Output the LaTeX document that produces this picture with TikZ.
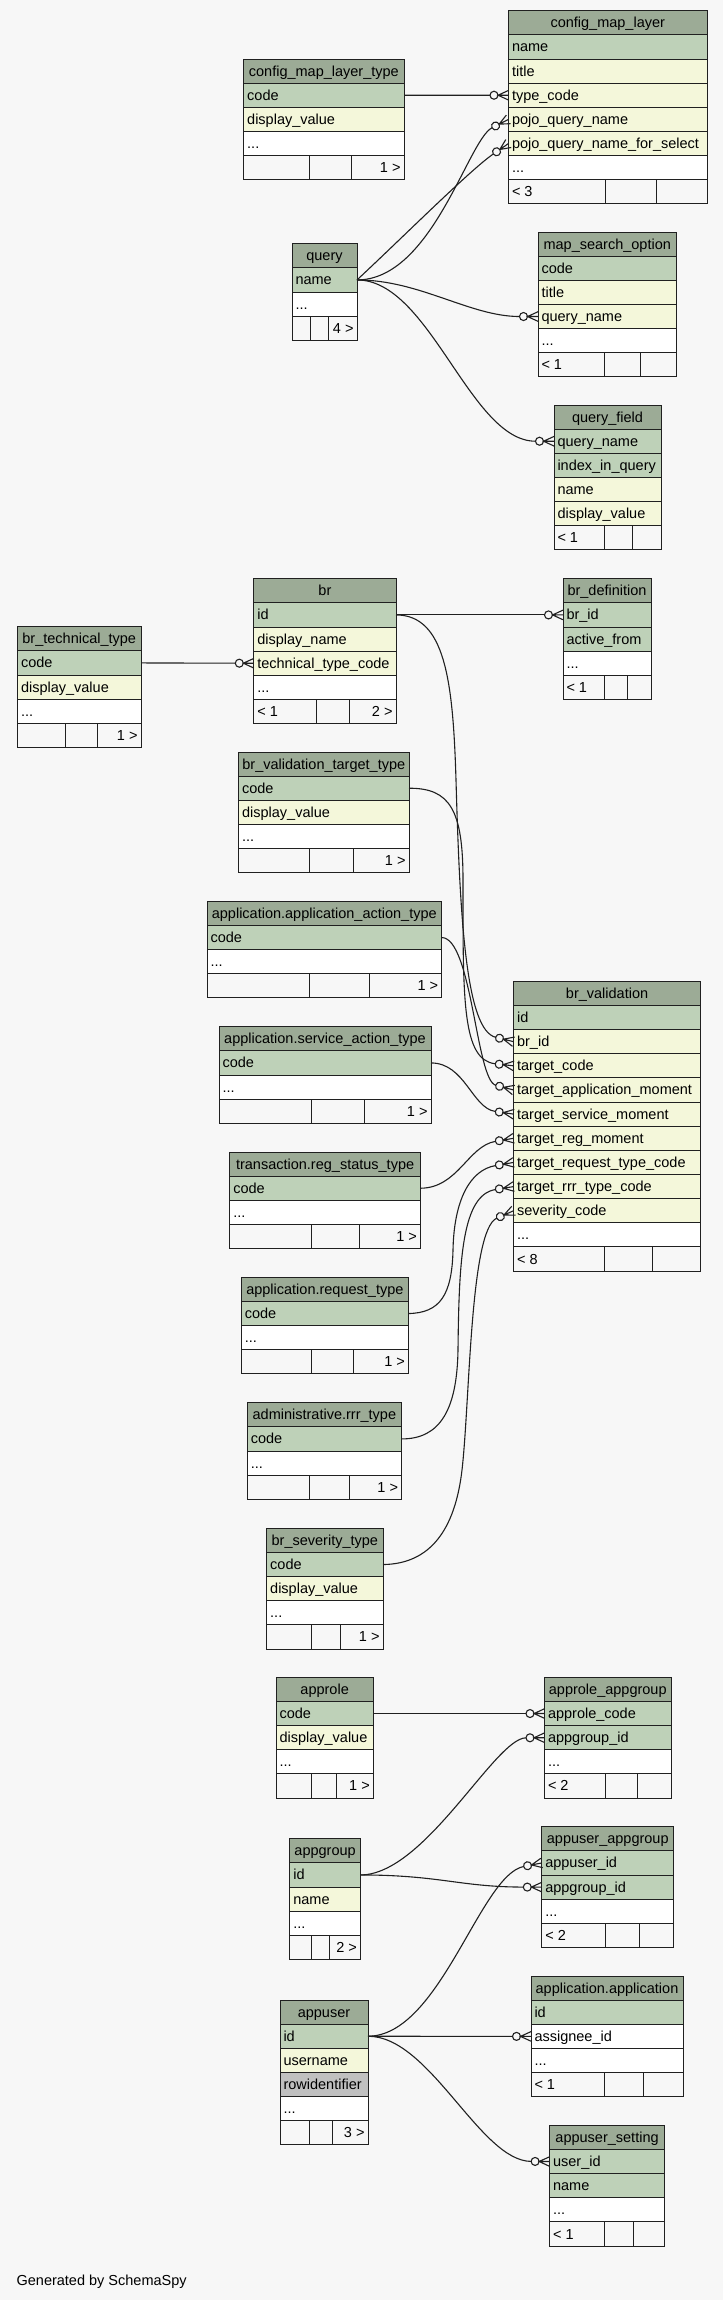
\documentclass[tikz,border=0pt]{standalone}
\usepackage{fontspec}
\setmainfont{Liberation Sans}
\usetikzlibrary{arrows.meta}
\definecolor{bgc}{HTML}{F7F7F7}
\definecolor{hdrc}{HTML}{9CAB96}
\definecolor{pkc}{HTML}{BED1B8}
\definecolor{colc}{HTML}{F4F7DA}
\definecolor{gryc}{HTML}{C0C0C0}
\definecolor{linec}{HTML}{202020}
\pgfdeclarearrow{
  name = crowodot,
  setup code = {
    \pgfarrowssettipend{0pt}
    \pgfarrowssetlineend{-18.5pt}
    \pgfarrowssetbackend{-18.5pt}
    \pgfarrowshullpoint{0pt}{5pt}
    \pgfarrowshullpoint{0pt}{-5pt}
    \pgfarrowshullpoint{-18.5pt}{4pt}
    \pgfarrowshullpoint{-18.5pt}{-4pt}
  },
  drawing code = {
    \pgfpathmoveto{\pgfqpoint{0pt}{4.8pt}}
    \pgfpathlineto{\pgfqpoint{-10.5pt}{0pt}}
    \pgfpathlineto{\pgfqpoint{0pt}{-4.8pt}}
    \pgfpathmoveto{\pgfqpoint{-10.5pt}{0pt}}
    \pgfpathlineto{\pgfqpoint{0pt}{0pt}}
    \pgfusepathqstroke
    \pgfpathcircle{\pgfqpoint{-14.5pt}{0pt}}{4pt}
    \pgfusepathqstroke
  }
}
\newcommand{\rh}{24.15}
\newcommand{\dd}{...}
\newcommand{\dbtab}[6]{%
  \node[cell, rhdr, minimum width=#4pt, anchor=north west] (#1-0) at (#2,#3) {};
  \node[txt, anchor=base] at ([yshift=-5pt]#1-0.center) {#5};
  \foreach \rkind/\rtext [count=\ri] in {#6}{%
    \node[cell, \rkind, minimum width=#4pt, anchor=north west] (#1-\ri) at (#2,#3+\ri*\rh) {};
    \node[txt, anchor=base west] at ([xshift=3.5pt,yshift=-5pt]#1-\ri.west) {\rtext};
  }%
}
\newcommand{\dbfoot}[4]{%
  \draw[cellline] ([xshift=#2pt]#1.north west) -- ([xshift=#2pt]#1.south west);
  \draw[cellline] ([xshift=#3pt]#1.north west) -- ([xshift=#3pt]#1.south west);
  \node[txt, anchor=base east] at ([xshift=-3.5pt,yshift=-5pt]#1.east) {#4};
}
\begin{document}
\begin{tikzpicture}[x=1pt,y=-1pt,
  cell/.style={rectangle, draw=linec, line width=1pt, minimum height=24.15pt, inner sep=0pt, outer sep=0pt},
  cellline/.style={draw=linec, line width=1pt},
  rhdr/.style={fill=hdrc},
  rpk/.style={fill=pkc},
  rcol/.style={fill=colc},
  rex/.style={fill=white},
  rgry/.style={fill=gryc},
  rft/.style={fill=bgc},
  txt/.style={inner sep=0pt, outer sep=0pt, font=\fontsize{14.5}{17}\selectfont, text=black},
  rel/.style={draw=linec, line width=1.1pt, -{crowodot}}
]
\fill[bgc] (0,0) rectangle (723,2300);
\useasboundingbox (0,0) rectangle (723,2300);

\dbtab{cmlt}{243.7}{59}{160.3}{config\_map\_layer\_type}{rpk/code, rcol/display\_value, rex/\dd, rft/}
\dbfoot{cmlt-4}{65.3}{107.3}{1 >}

\dbtab{cml}{508.5}{10.7}{198.5}{config\_map\_layer}{rpk/name, rcol/title, rcol/type\_code, rcol/pojo\_query\_name, rcol/pojo\_query\_name\_for\_select, rex/\dd, rft/< 3}
\dbfoot{cml-7}{96.5}{147.5}{}

\dbtab{query}{292}{243.7}{65}{query}{rpk/name, rex/\dd, rft/}
\dbfoot{query-3}{18.6}{36}{4 >}

\dbtab{mso}{538}{232}{138.5}{map\_search\_option}{rpk/code, rcol/title, rcol/query\_name, rex/\dd, rft/< 1}
\dbfoot{mso-5}{66}{102.5}{}

\dbtab{qf}{554}{405}{107}{query\_field}{rpk/query\_name, rpk/index\_in\_query, rcol/name, rcol/display\_value, rft/< 1}
\dbfoot{qf-5}{50.5}{78}{}

\dbtab{br}{253.8}{578.7}{142.2}{br}{rpk/id, rcol/display\_name, rcol/technical\_type\_code, rex/\dd, rft/< 1}
\dbfoot{br-5}{62.2}{95.2}{2 >}

\dbtab{btt}{17.5}{626.7}{123.5}{br\_technical\_type}{rpk/code, rcol/display\_value, rex/\dd, rft/}
\dbfoot{btt-4}{47.5}{79.9}{1 >}

\dbtab{brdef}{563}{578.7}{88}{br\_definition}{rpk/br\_id, rpk/active\_from, rex/\dd, rft/< 1}
\dbfoot{brdef-4}{41}{64.6}{}

\dbtab{bvtt}{238.6}{752}{170.4}{br\_validation\_target\_type}{rpk/code, rcol/display\_value, rex/\dd, rft/}
\dbfoot{bvtt-4}{70.4}{114.9}{1 >}

\dbtab{aat}{207}{901.3}{234.6}{application.application\_action\_type}{rpk/code, rex/\dd, rft/}
\dbfoot{aat-3}{102}{162}{1 >}

\dbtab{bv}{513.6}{981.3}{186.9}{br\_validation}{rpk/id, rcol/br\_id, rcol/target\_code, rcol/target\_application\_moment, rcol/target\_service\_moment, rcol/target\_reg\_moment, rcol/target\_request\_type\_code, rcol/target\_rrr\_type\_code, rcol/severity\_code, rex/\dd, rft/< 8}
\dbfoot{bv-11}{90.9}{138.9}{}

\dbtab{sat}{219}{1026.7}{212}{application.service\_action\_type}{rpk/code, rex/\dd, rft/}
\dbfoot{sat-3}{92}{145}{1 >}

\dbtab{rst}{229.8}{1152}{190.6}{transaction.reg\_status\_type}{rpk/code, rex/\dd, rft/}
\dbfoot{rst-3}{81.2}{129.2}{1 >}

\dbtab{rqt}{241.3}{1277.3}{167.1}{application.request\_type}{rpk/code, rex/\dd, rft/}
\dbfoot{rqt-3}{69.7}{112.2}{1 >}

\dbtab{rrr}{247.3}{1402.7}{154.2}{administrative.rrr\_type}{rpk/code, rex/\dd, rft/}
\dbfoot{rrr-3}{61.7}{101.7}{1 >}

\dbtab{bst}{266.7}{1528.3}{116.3}{br\_severity\_type}{rpk/code, rcol/display\_value, rex/\dd, rft/}
\dbfoot{bst-4}{44.3}{73.3}{1 >}

\dbtab{approle}{276}{1677.3}{97.3}{approle}{rpk/code, rcol/display\_value, rex/\dd, rft/}
\dbfoot{approle-4}{35}{60.4}{1 >}

\dbtab{aag}{544.5}{1677.3}{126.5}{approle\_appgroup}{rpk/approle\_code, rpk/appgroup\_id, rex/\dd, rft/< 2}
\dbfoot{aag-4}{61}{93.2}{}

\dbtab{appgroup}{289.8}{1838.7}{70.6}{appgroup}{rpk/id, rcol/name, rex/\dd, rft/}
\dbfoot{appgroup-4}{21.2}{39.7}{2 >}

\dbtab{aug}{541.8}{1826.7}{131.9}{appuser\_appgroup}{rpk/appuser\_id, rpk/appgroup\_id, rex/\dd, rft/< 2}
\dbfoot{aug-4}{63.7}{97.8}{}

\dbtab{app}{531}{1976}{152}{application.application}{rpk/id, rex/assignee\_id, rex/\dd, rft/< 1}
\dbfoot{app-4}{73}{112}{}

\dbtab{appuser}{280}{2000}{88}{appuser}{rpk/id, rcol/username, rgry/rowidentifier, rex/\dd, rft/}
\dbfoot{appuser-5}{29}{52}{3 >}

\dbtab{aus}{549.6}{2125.3}{114.9}{appuser\_setting}{rpk/user\_id, rpk/name, rex/\dd, rft/< 1}
\dbfoot{aus-4}{54.4}{84}{}

% relationships
\draw[rel] (cmlt-1.east) -- (cml-3.west);
\draw[rel] (query-1.east) .. controls (432,280) and (468,140) .. (cml-4.west);
\draw[rel] (query-1.east) .. controls (400,240) and (470,170) .. (cml-5.west);
\draw[rel] (query-1.east) .. controls (420,280) and (470,316.5) .. (mso-3.west);
\draw[rel] (query-1.east) .. controls (430,280) and (470,441.2) .. (qf-1.west);

\draw[rel] (btt-1.east) -- (br-3.west);
\draw[rel] (br-1.east) -- (brdef-1.west);
\draw[rel] (br-1.east) .. controls (445,615) and (453,680) .. (456,780) .. controls (460,920) and (466,1030) .. (bv-2.west);
\draw[rel] (bvtt-1.east) .. controls (450,788) and (463,810) .. (463,880) .. controls (463,1000) and (462,1060) .. (bv-3.west);
\draw[rel] (aat-1.east) .. controls (472,937.5) and (476,1080) .. (bv-4.west);
\draw[rel] (sat-1.east) .. controls (465,1063) and (472,1108) .. (bv-5.west);
\draw[rel] (rst-1.east) .. controls (458,1188) and (468,1146) .. (bv-6.west);
\draw[rel] (rqt-1.east) .. controls (440,1313) and (452,1295) .. (453,1250) .. controls (454,1200) and (470,1170) .. (bv-7.west);
\draw[rel] (rrr-1.east) .. controls (440,1439) and (457,1410) .. (458,1350) .. controls (459,1260) and (462,1195) .. (bv-8.west);
\draw[rel] (bst-1.east) .. controls (430,1564) and (455,1530) .. (462,1470) .. controls (470,1400) and (470,1230) .. (bv-9.west);

\draw[rel] (approle-1.east) -- (aag-1.west);
\draw[rel] (appgroup-1.east) .. controls (425,1875) and (495,1738) .. (aag-2.west);
\draw[rel] (appgroup-1.east) .. controls (440,1875) and (460,1887) .. (aug-2.west);
\draw[rel] (appuser-1.east) .. controls (440,2036) and (480,1875) .. (aug-1.west);
\draw[rel] (appuser-1.east) -- (app-2.west);
\draw[rel] (appuser-1.east) .. controls (430,2036) and (480,2161) .. (aus-1.west);

\node[txt, anchor=base west] (gen) at (16.6,2285) {Generated by SchemaSpy};
\end{tikzpicture}
\end{document}
